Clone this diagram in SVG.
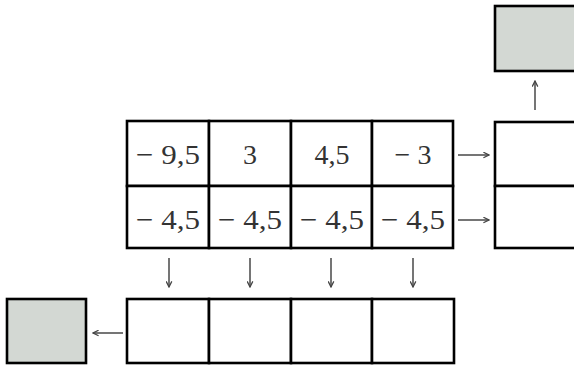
<svg xmlns="http://www.w3.org/2000/svg" width="574" height="367" viewBox="0 0 574 367">
<defs>
<style>
.cell{fill:#fff;stroke:#000;stroke-width:2.6}
.grey{fill:#d3d8d3;stroke:#000;stroke-width:2.6}
.t{font-family:"Liberation Serif","Times New Roman",serif;font-size:28px;fill:#333;text-anchor:middle}
.arr{stroke:#666;stroke-width:1.8;fill:none;marker-end:url(#ah)}
</style>
<marker id="ah" viewBox="0 0 10 10" refX="9" refY="5" markerWidth="7" markerHeight="7" markerUnits="userSpaceOnUse" orient="auto">
<path d="M1,1 L9,5 L1,9" fill="none" stroke="#444" stroke-width="1.8"/>
</marker>
</defs>
<rect width="574" height="367" fill="#fff"/>
<g id="grid">
<g id="c11"><rect class="cell" x="127" y="121" width="82" height="65"/><text class="t" x="168" y="164" textLength="64" lengthAdjust="spacingAndGlyphs">− 9,5</text></g>
<g id="c12"><rect class="cell" x="209" y="121" width="82" height="65"/><text class="t" x="250" y="164">3</text></g>
<g id="c13"><rect class="cell" x="291" y="121" width="81" height="65"/><text class="t" x="332" y="164">4,5</text></g>
<g id="c14"><rect class="cell" x="372" y="121" width="81" height="65"/><text class="t" x="413" y="164">− 3</text></g>
<g id="c21"><rect class="cell" x="127" y="186" width="82" height="62"/><text class="t" x="168" y="229" textLength="64" lengthAdjust="spacingAndGlyphs">− 4,5</text></g>
<g id="c22"><rect class="cell" x="209" y="186" width="82" height="62"/><text class="t" x="250" y="229" textLength="64" lengthAdjust="spacingAndGlyphs">− 4,5</text></g>
<g id="c23"><rect class="cell" x="291" y="186" width="81" height="62"/><text class="t" x="332" y="229" textLength="64" lengthAdjust="spacingAndGlyphs">− 4,5</text></g>
<g id="c24"><rect class="cell" x="372" y="186" width="81" height="62"/><text class="t" x="413" y="229" textLength="64" lengthAdjust="spacingAndGlyphs">− 4,5</text></g>
</g>
<g id="right1"><rect class="cell" x="495" y="122" width="90" height="64"/></g>
<g id="right2"><rect class="cell" x="495" y="186" width="90" height="62"/></g>
<g id="topgrey"><rect class="grey" x="495" y="6" width="90" height="65"/></g>
<g id="b1"><rect class="cell" x="127" y="299" width="82" height="64"/></g>
<g id="b2"><rect class="cell" x="209" y="299" width="82" height="64"/></g>
<g id="b3"><rect class="cell" x="291" y="299" width="81" height="64"/></g>
<g id="b4"><rect class="cell" x="372" y="299" width="82" height="64"/></g>
<g id="leftgrey"><rect class="grey" x="7" y="299" width="79" height="64"/></g>
<g id="connectors">
<line class="arr" x1="535" y1="110" x2="535" y2="81"/>
<line class="arr" x1="458" y1="155" x2="489" y2="155"/>
<line class="arr" x1="458" y1="220" x2="489" y2="220"/>
<line class="arr" x1="169" y1="258" x2="169" y2="287"/>
<line class="arr" x1="250" y1="258" x2="250" y2="287"/>
<line class="arr" x1="331" y1="258" x2="331" y2="287"/>
<line class="arr" x1="413" y1="258" x2="413" y2="287"/>
<line class="arr" x1="123" y1="333" x2="93" y2="333"/>
</g>
</svg>
